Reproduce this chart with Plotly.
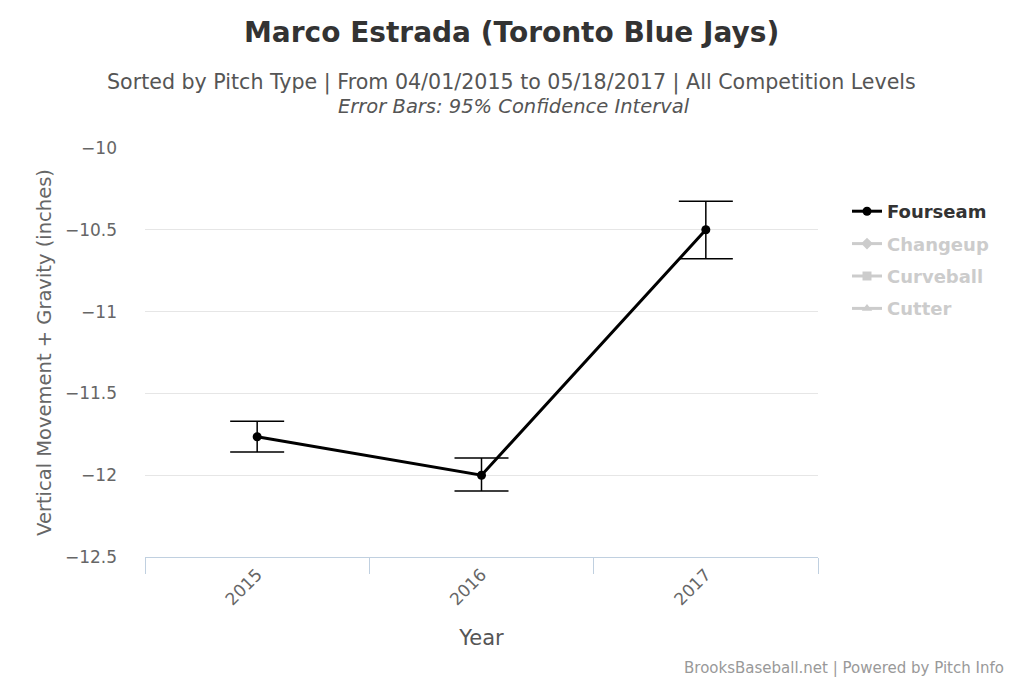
import plotly.graph_objects as go

years = ["2015", "2016", "2017"]
fourseam = [-11.765, -12.0, -10.50]
ci_upper = [-11.67, -11.895, -10.325]
ci_lower = [-11.858, -12.097, -10.677]
y_ticks = [-10, -10.5, -11, -11.5, -12, -12.5]
y_tick_text = ["−10", "−10.5", "−11", "−11.5", "−12", "−12.5"]

err_plus = [u - v for u, v in zip(ci_upper, fourseam)]
err_minus = [v - l for v, l in zip(fourseam, ci_lower)]

FONT = "DejaVu Sans"
L, R, T, B = 145, 206, 148, 126
W, H = 1024, 683

fig = go.Figure()
fig.add_trace(go.Scatter(
    x=years, y=fourseam, mode="lines+markers",
    name="<b>Fourseam</b>", legendgroup="a",
    line=dict(color="black", width=3),
    marker=dict(color="black", size=9, symbol="circle"),
    error_y=dict(type="data", symmetric=False, array=err_plus, arrayminus=err_minus,
                 color="black", thickness=1.5, width=27),
))
for i, (nm, sym) in enumerate([("Changeup", "diamond"), ("Curveball", "square"), ("Cutter", "triangle-up")]):
    fig.add_trace(go.Scatter(
        x=[None], y=[None], mode="lines+markers",
        name=f"<span style='color:#CCCCCC'><b>{nm}</b></span>", legendgroup=f"g{i}",
        line=dict(color="#CCCCCC", width=3),
        marker=dict(color="#CCCCCC", size=9, symbol=sym),
    ))

fig.update_layout(
    width=W, height=H,
    paper_bgcolor="white", plot_bgcolor="white",
    margin=dict(l=L, r=R, t=T, b=B),
    font=dict(family=FONT, color="#666666", size=16),
    showlegend=True,
    legend=dict(x=(847 - L) / (W - L - R), y=(H - B - 193) / (H - T - B), xanchor="left", yanchor="top",
                font=dict(size=18, color="#333333", family=FONT),
                traceorder="grouped", tracegroupgap=6, itemwidth=30, bgcolor="rgba(0,0,0,0)"),
)

def ann(text, xpx, ypx, size, color, xanchor="center", yanchor="middle"):
    fig.add_annotation(text=text, x=(xpx - L) / (W - L - R),
                       y=(H - B - ypx) / (H - T - B),
                       xref="paper", yref="paper", showarrow=False,
                       xanchor=xanchor, yanchor=yanchor,
                       font=dict(size=size, color=color, family=FONT))

ann("<b>Marco Estrada (Toronto Blue Jays)</b>", 512, 32, 28, "#333333")
ann("Sorted by Pitch Type | From 04/01/2015 to 05/18/2017 | All Competition Levels", 512, 82, 20.6, "#555555")
ann("<i>Error Bars: 95% Confidence Interval</i>", 514, 106, 19.5, "#555555")
ann("BrooksBaseball.net | Powered by Pitch Info", 1006, 668, 15, "#999999", xanchor="right")

fig.update_xaxes(
    type="category", range=[-0.5, 2.5],
    showline=True, linecolor="#C0D0E0", linewidth=1,
    ticks="outside", tickson="boundaries", ticklen=16, tickcolor="#C0D0E0",
    tickangle=-45, tickfont=dict(size=17, color="#666666"),
    showgrid=False, zeroline=False,
    title=dict(text="Year", font=dict(size=21, color="#555555"), standoff=21),
)
fig.update_yaxes(
    range=[-12.5, -10], tickvals=y_ticks, ticktext=y_tick_text,
    showgrid=True, gridcolor="#E6E6E6", gridwidth=1, zeroline=False,
    showline=False, ticks="", ticklabelstandoff=27,
    tickfont=dict(size=17, color="#666666"),
    title=dict(text="Vertical Movement + Gravity (inches)", font=dict(size=19.5, color="#666666"), standoff=8),
)

fig.write_html("out.html", config={"displayModeBar": False},
               post_script="document.body.style.margin='0';document.body.style.padding='0';")
